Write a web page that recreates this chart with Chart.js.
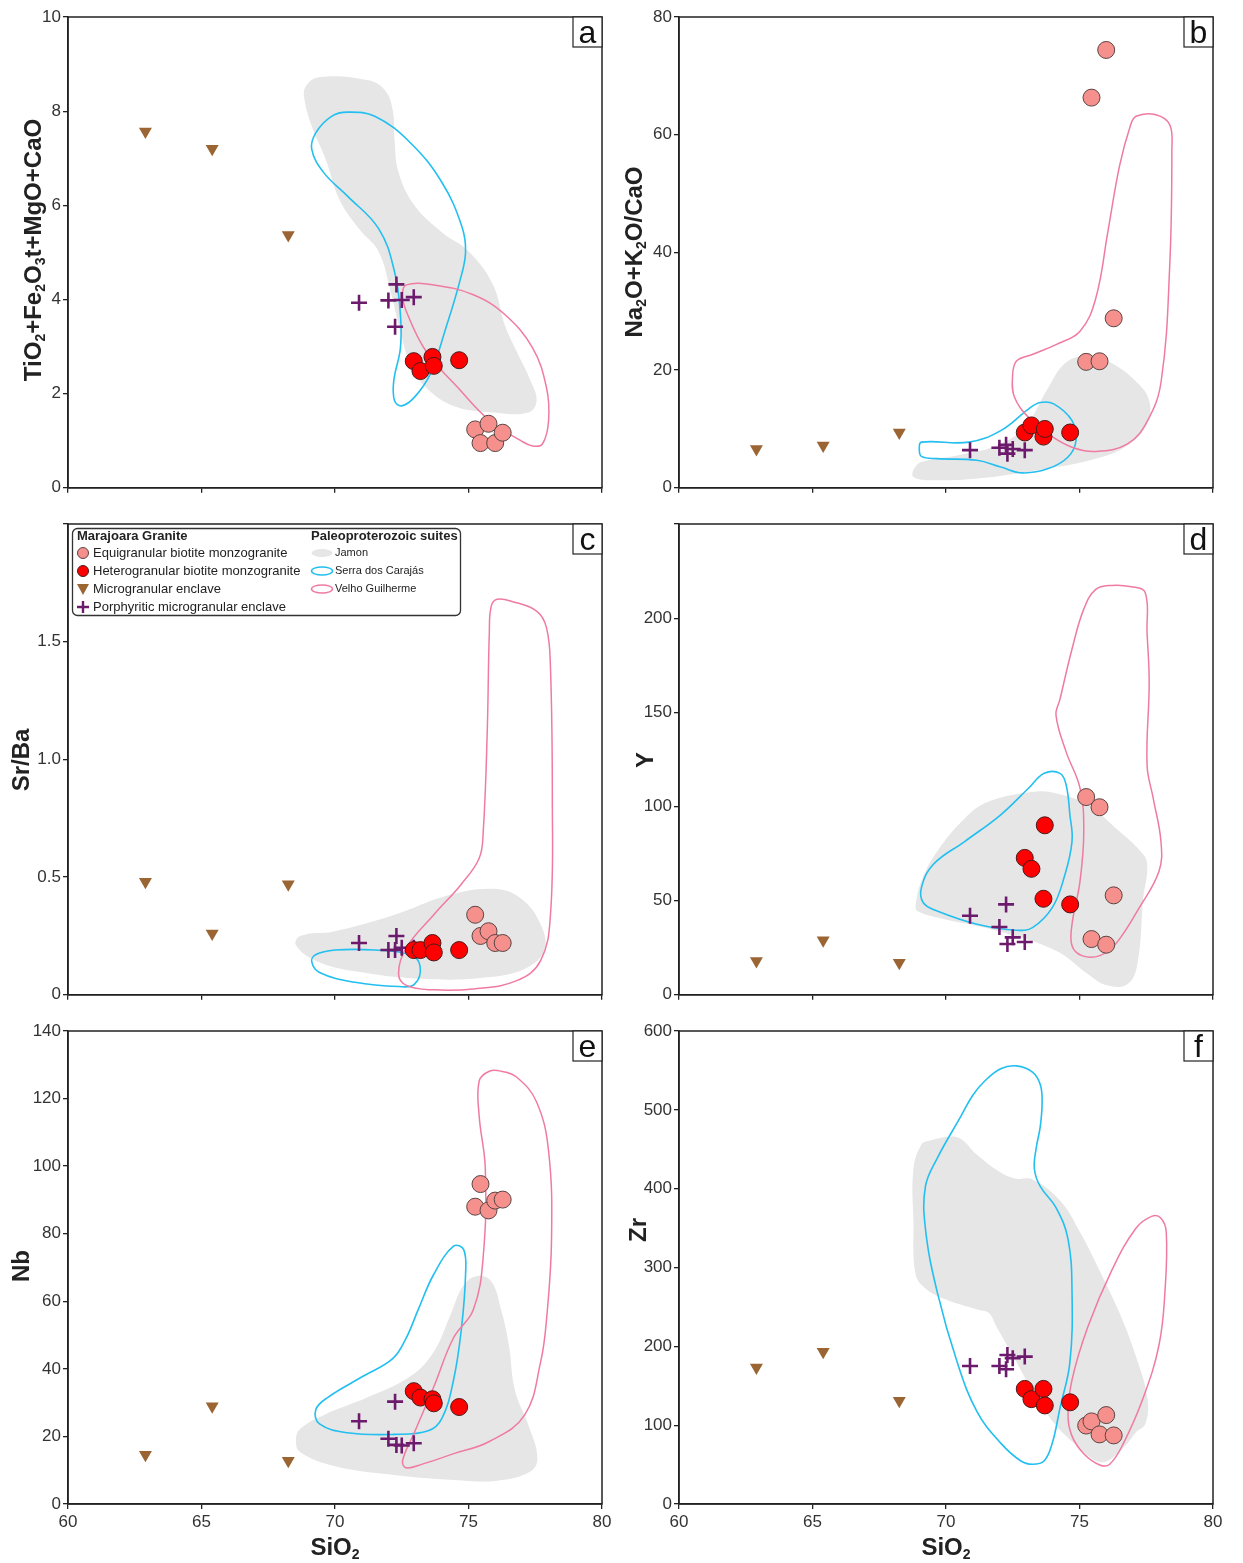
<!DOCTYPE html>
<html>
<head>
<meta charset="utf-8">
<script src="https://cdn.jsdelivr.net/npm/chart.js@4.4.1/dist/chart.umd.min.js"></script>
<style>
  body { margin: 0; background: #fff; }
  #wrap { position: relative; width: 1243px; height: 1563px; overflow: hidden; }
  canvas { position: absolute; }
</style>
</head>
<body>
<div id="wrap">
  <canvas id="pa"></canvas>
  <canvas id="pb"></canvas>
  <canvas id="pc"></canvas>
  <canvas id="pd"></canvas>
  <canvas id="pe"></canvas>
  <canvas id="pf"></canvas>
</div>
<script>
// SiO2 of the samples (same samples in every panel)
const siEqui   = [75.25, 75.45, 75.75, 76.0, 76.28];
const siHetero = [72.95, 73.2, 73.65, 73.7, 74.65];
const siMicro  = [62.9, 65.4, 68.25];
const siPorph  = [70.9, 72.0, 72.25, 72.3, 72.5, 72.95];

// a: TiO2+Fe2O3t+MgO+CaO
const aEqui   = [1.24, 0.95, 1.36, 0.95, 1.17];
const aHetero = [2.69, 2.48, 2.78, 2.59, 2.71];
const aMicro  = [7.57, 7.2, 5.37];
const aPorph  = [3.93, 3.98, 3.42, 4.32, 3.99, 4.05];
// b: Na2O+K2O/CaO
const bEqui   = [21.4, 66.3, 21.5, 74.4, 28.8];
const bHetero = [9.4, 10.6, 8.7, 10.0, 9.4];
const bMicro  = [6.6, 7.2, 9.4];
const bPorph  = [6.4, 6.8, 7.3, 5.8, 6.6, 6.4];
// c: Sr/Ba
const cEqui   = [0.34, 0.25, 0.27, 0.22, 0.22];
const cHetero = [0.19, 0.19, 0.22, 0.18, 0.19];
const cMicro  = [0.48, 0.26, 0.47];
const cPorph  = [0.22, 0.19, 0.19, 0.25, 0.2, 0.2];
// d: Y
const dEqui   = [105, 29.6, 99.6, 26.6, 52.8];
const dHetero = [72.7, 66.9, 51, 90, 48];
const dMicro  = [18, 29, 17];
const dPorph  = [42, 36, 48, 27, 30.5, 28];
// e: Nb
const eEqui   = [88, 94.7, 86.9, 89.8, 90.1];
const eHetero = [33.4, 31.5, 31.0, 29.8, 28.7];
const eMicro  = [14.6, 28.9, 12.8];
const ePorph  = [24.5, 19.3, 30.3, 17.5, 17.3, 18.0];
// f: Zr
const fEqui   = [99.5, 104.8, 88.3, 112.8, 87];
const fHetero = [146, 133, 146, 125, 129];
const fMicro  = [173, 193, 131];
const fPorph  = [175, 175, 171, 189, 185, 187];

// fields of the Paleoproterozoic suites, [SiO2, value]
const jamonA = [[68.9,8.52],[69.4,8.72],[71.2,8.66],[71.86,8.45],[72.16,8.03],[72.23,7.4],[72.38,6.7],[72.97,6.0],[74.0,5.43],[75.03,5.01],[75.92,4.31],[76.36,3.46],[76.8,2.9],[77.33,2.27],[77.55,1.85],[77.25,1.6],[75.92,1.6],[74.44,1.74],[73.41,2.13],[72.82,2.62],[72.45,3.32],[72.08,4.17],[71.64,5.01],[70.9,5.5],[70.16,6.13],[69.65,6.98],[69.13,7.68],[68.86,8.24]];
const carajasA = [[70.46,7.98],[71.49,7.89],[72.82,7.33],[74.0,6.49],[74.74,5.57],[74.89,5.01],[74.67,4.38],[74.15,3.39],[73.56,2.41],[72.97,1.92],[72.5,1.74],[72.23,1.85],[72.2,2.27],[72.45,2.97],[72.45,3.68],[72.23,4.59],[71.64,5.5],[70.46,6.2],[69.57,6.7],[69.13,7.19],[69.28,7.54],[69.87,7.89]];
const velhoA = [[72.67,4.31],[73.7,4.31],[75.18,4.1],[76.36,3.68],[77.4,2.97],[77.92,2.13],[78.0,1.43],[77.77,0.93],[77.4,0.89],[76.96,1.0],[75.78,1.43],[74.6,2.13],[73.41,2.9],[72.67,3.75],[72.53,4.1]];

const jamonB = [[68.78,2.98],[69.08,4.38],[70.42,5.5],[71.9,7.2],[72.94,10.3],[73.83,17.0],[74.42,21.0],[75.16,22.4],[76.06,21.5],[77.09,18.2],[77.61,14.8],[77.53,10.85],[76.8,7.2],[75.6,4.95],[73.38,2.98],[71.16,1.57],[69.38,1.3],[68.78,1.85]];
const carajasB = [[69.08,7.76],[70.86,7.76],[72.05,9.72],[73.09,13.38],[73.53,14.5],[74.05,14.22],[74.72,11.41],[74.87,8.04],[74.57,5.23],[73.83,3.26],[72.86,2.53],[72.05,3.54],[71.16,4.67],[69.67,4.95],[69.08,5.34],[69.0,6.63]];
const velhoB = [[72.49,18.72],[72.64,21.53],[73.23,22.65],[74.12,24.34],[75.02,26.59],[75.61,32.21],[76.06,43.45],[76.5,54.7],[76.9,61.44],[77.12,63.13],[77.86,63.4],[78.38,61.7],[78.46,57.5],[78.38,37.8],[78.06,18.15],[77.55,11.4],[76.8,7.47],[75.6,6.18],[74.72,6.9],[73.83,9.16],[73.09,11.97],[72.57,15.35]];

const jamonC = [[68.69,0.25],[70.0,0.27],[72.23,0.34],[74.16,0.42],[75.92,0.45],[76.95,0.41],[77.7,0.3],[77.84,0.19],[77.1,0.11],[75.63,0.074],[73.41,0.067],[70.75,0.1],[69.27,0.145],[68.54,0.21]];
const carajasC = [[69.27,0.17],[70.0,0.19],[71.49,0.19],[72.82,0.17],[73.19,0.12],[72.97,0.044],[72.38,0.035],[70.75,0.053],[69.42,0.095],[69.13,0.14]];
const velhoC = [[75.85,1.65],[76.07,1.68],[76.66,1.67],[77.55,1.63],[77.92,1.56],[78.07,1.39],[78.14,0.83],[78.07,0.34],[77.7,0.145],[76.81,0.06],[75.18,0.025],[73.7,0.021],[72.67,0.04],[72.38,0.09],[72.67,0.2],[73.7,0.34],[74.73,0.47],[75.4,0.58],[75.55,0.69],[75.7,1.11],[75.78,1.54]];

const jamonD = [[68.86,47.2],[69.08,60.4],[69.67,76.2],[70.71,93.8],[71.6,102.6],[73.38,107.9],[74.12,107],[75.31,100.9],[76.35,88.6],[77.39,74.5],[77.54,67.4],[77.39,51.6],[77.17,16.4],[76.8,5.8],[76.06,4.9],[75.31,11.1],[74.12,23.4],[71.9,34],[69.67,41],[68.93,44.5]];
const carajasD = [[69.15,48.9],[69.08,56.9],[69.52,69.2],[70.71,81.5],[72.05,95.6],[73.09,109.7],[73.68,117.6],[74.27,117.6],[74.5,111.4],[74.64,95.6],[74.72,81.5],[74.42,62.1],[73.98,46.3],[73.24,35.7],[72.64,34.3],[71.16,37.5],[69.67,44.5]];
const velhoD = [[74.27,157],[74.72,183.6],[75.16,204.8],[75.61,215.3],[76.2,217.4],[76.94,216.7],[77.46,213.6],[77.53,192.4],[77.61,166],[77.53,122],[77.76,104.4],[78.05,81.5],[77.98,65.7],[77.24,46.3],[76.35,26.9],[75.76,20.8],[75.09,20.8],[74.72,26],[74.72,37.5],[75.02,60.4],[75.16,86.8],[75.02,109.7],[74.5,129],[74.12,148.4]];

const jamonE = [[68.54,19],[68.69,22.2],[69.57,26.3],[71.2,31.5],[72.82,37.8],[73.7,45.1],[74.3,55.5],[74.82,64.8],[75.33,67.5],[75.85,65.9],[76.22,57.6],[76.51,47.2],[76.74,33.6],[77.25,23.2],[77.58,13.8],[77.33,9.7],[76.07,6.9],[74.44,7.1],[72.23,8.6],[70.0,11.2],[68.69,15.4]];
const carajasE = [[69.28,27.9],[69.72,31.5],[71.05,37.8],[72.16,43],[72.67,49.2],[73.12,57.6],[73.7,68],[74.44,76.3],[74.82,75.3],[74.89,68],[74.74,52.3],[74.44,36.7],[74.0,25.3],[73.49,21.7],[72.23,20.6],[70.46,21.1],[69.42,23.7]];
const velhoE = [[75.4,125.2],[75.78,128.1],[76.22,128.1],[76.81,126.3],[77.55,119],[78.0,104.4],[78.11,78.4],[77.92,54.4],[77.7,42],[77.1,26.3],[75.78,18.5],[74.45,14.9],[73.27,11.8],[72.67,10.7],[72.53,12.8],[72.97,21.1],[73.7,34.7],[74.44,49.2],[75.18,57.5],[75.55,73.1],[75.63,99.2],[75.4,114.8]];

const jamonF = [[69.08,456],[69.38,460.8],[70.12,466],[70.56,463],[71.16,443],[72.05,420.6],[72.64,412.6],[73.24,411.7],[74.27,385],[75.02,344.8],[75.76,295.7],[76.5,242.2],[77.1,188.7],[77.54,135.1],[77.47,101.7],[77.1,90.5],[76.8,77.2],[76.06,54.9],[75.61,54.9],[74.87,75],[74.12,99.5],[73.38,135],[72.64,179.7],[71.9,224.4],[71.6,242.2],[71.16,246.7],[69.95,260],[69.23,273.4],[68.86,291.3],[68.78,358.2],[68.78,425.1]];
const carajasF = [[71.45,536.6],[72.05,552.2],[72.64,555.8],[73.24,547.8],[73.53,532],[73.6,509.8],[73.53,478.6],[73.38,451.8],[73.31,425],[73.53,402.8],[74.12,376],[74.57,335.9],[74.72,269],[74.64,179.7],[74.27,121.8],[73.98,77.2],[73.68,54.9],[73.24,50.4],[72.79,54.9],[72.05,77.2],[71.16,117.3],[70.42,179.7],[69.67,269],[69.23,349.2],[69.23,402.8],[69.67,438.5],[70.56,492],[71.01,518.8]];
const velhoF = [[74.57,112.8],[74.72,157.5],[75.31,224.4],[76.2,295.7],[77.1,349.2],[77.7,364.8],[78.05,362.6],[78.25,344.8],[78.2,269],[77.98,202],[77.39,135],[76.65,77.2],[76.13,50.4],[75.76,49.5],[75.16,63.8],[74.72,86.1]];

const FONT = '"Liberation Sans", Arial, Helvetica, sans-serif';
const PINK = '#f5908c', RED = '#ff0000', BROWN = '#9b6533', PURPLE = '#6c1b6c';
const CYAN = '#22bff0', ROSE = '#f07ba0', GREY = '#e6e6e6';

Chart.defaults.font.family = FONT;
Chart.defaults.color = '#333';

const xy = (xs, ys) => xs.map((x, i) => ({ x, y: ys[i] }));
const pts = a => a.map(p => ({ x: p[0], y: p[1] }));

function pointSets(eq, he, mi, po) {
  return [
    { data: xy(siEqui, eq), pointStyle: 'circle', pointRadius: 8.5, pointBackgroundColor: PINK, pointBorderColor: '#5a4444', pointBorderWidth: 1 },
    { data: xy(siHetero, he), pointStyle: 'circle', pointRadius: 8.5, pointBackgroundColor: RED, pointBorderColor: '#4a1a1a', pointBorderWidth: 1 },
    { data: xy(siPorph, po), pointStyle: 'cross', pointRadius: 8, pointBorderColor: PURPLE, pointBackgroundColor: PURPLE, pointBorderWidth: 2.6 },
    { data: xy(siMicro, mi), pointStyle: 'triangle', pointRotation: 180, pointRadius: 7.5, pointBackgroundColor: BROWN, pointBorderWidth: 0 }
  ];
}

function fieldSets(velho, carajas, jamon) {
  const base = { type: 'line', closed: true, tension: 0.4, pointRadius: 0, pointHoverRadius: 0 };
  return [
    Object.assign({}, base, { data: pts(velho), borderColor: ROSE, borderWidth: 1.5, backgroundColor: 'rgba(0,0,0,0)', fill: false }),
    Object.assign({}, base, { data: pts(carajas), borderColor: CYAN, borderWidth: 1.6, backgroundColor: 'rgba(0,0,0,0)', fill: false }),
    Object.assign({}, base, { data: pts(jamon), borderWidth: 0, backgroundColor: GREY, fill: 'shape' })
  ];
}

// make the field outlines closed smooth loops
const closedFields = {
  id: 'closedFields',
  afterDatasetsUpdate(chart) {
    chart.data.datasets.forEach((ds, i) => {
      if (!ds.closed) return;
      const line = chart.getDatasetMeta(i).dataset;
      if (!line) return;
      line._loop = true;
      line._fullLoop = true;
      line._pointsUpdated = false;
      line._segments = undefined;
      line._path = undefined;
    });
  }
};

function richText(ctx, parts, cx, cy, rotated) {
  const big = 'bold 24px ' + FONT, small = 'bold 14px ' + FONT;
  ctx.save();
  ctx.translate(cx, cy);
  if (rotated) ctx.rotate(-Math.PI / 2);
  ctx.fillStyle = '#222';
  ctx.textBaseline = 'alphabetic';
  ctx.textAlign = 'left';
  let w = 0;
  for (const [t, sub] of parts) { ctx.font = sub ? small : big; w += ctx.measureText(t).width; }
  let x = -w / 2;
  for (const [t, sub] of parts) {
    ctx.font = sub ? small : big;
    ctx.fillText(t, x, sub ? 13 : 8.5);
    x += ctx.measureText(t).width;
  }
  ctx.restore();
}

function drawLegend(ctx, ox, oy) {
  ctx.save();
  ctx.translate(-ox, -oy);
  ctx.beginPath();
  ctx.roundRect(72.5, 528.5, 388, 87, 5);
  ctx.fillStyle = '#fff';
  ctx.fill();
  ctx.strokeStyle = '#333';
  ctx.lineWidth = 1.3;
  ctx.stroke();

  ctx.textBaseline = 'middle';
  ctx.textAlign = 'left';
  ctx.fillStyle = '#222';
  ctx.font = 'bold 13px ' + FONT;
  ctx.fillText('Marajoara Granite', 77, 536);
  ctx.fillText('Paleoproterozoic suites', 311, 536);

  const rows = [553, 571, 589, 607];
  ctx.font = '13px ' + FONT;
  ['Equigranular biotite monzogranite', 'Heterogranular biotite monzogranite',
   'Microgranular enclave', 'Porphyritic microgranular enclave'].forEach((t, i) => {
    ctx.fillStyle = '#222';
    ctx.fillText(t, 93, rows[i]);
  });
  // markers
  [[PINK, '#5a4444'], [RED, '#4a1a1a']].forEach((c, i) => {
    ctx.beginPath();
    ctx.arc(83, rows[i], 5.5, 0, Math.PI * 2);
    ctx.fillStyle = c[0]; ctx.fill();
    ctx.strokeStyle = c[1]; ctx.lineWidth = 1; ctx.stroke();
  });
  ctx.beginPath();
  ctx.moveTo(77, rows[2] - 5); ctx.lineTo(89, rows[2] - 5); ctx.lineTo(83, rows[2] + 6); ctx.closePath();
  ctx.fillStyle = BROWN; ctx.fill();
  ctx.beginPath();
  ctx.moveTo(77, rows[3]); ctx.lineTo(89, rows[3]);
  ctx.moveTo(83, rows[3] - 6); ctx.lineTo(83, rows[3] + 6);
  ctx.strokeStyle = PURPLE; ctx.lineWidth = 2.4; ctx.stroke();

  ctx.font = '11px ' + FONT;
  ctx.fillStyle = '#222';
  ['Jamon', 'Serra dos Carajás', 'Velho Guilherme'].forEach((t, i) => ctx.fillText(t, 335, rows[i]));
  ctx.beginPath(); ctx.ellipse(322, rows[0], 10.5, 4, 0, 0, Math.PI * 2); ctx.fillStyle = GREY; ctx.fill();
  ctx.lineWidth = 1.5;
  ctx.beginPath(); ctx.ellipse(322, rows[1], 10.5, 4, 0, 0, Math.PI * 2); ctx.strokeStyle = CYAN; ctx.stroke();
  ctx.beginPath(); ctx.ellipse(322, rows[2], 10.5, 4, 0, 0, Math.PI * 2); ctx.strokeStyle = ROSE; ctx.stroke();
  ctx.restore();
}

function decoPlugin(p) {
  return {
    id: 'deco',
    afterDraw(chart) {
      const ctx = chart.ctx, a = chart.chartArea;
      ctx.save();
      ctx.strokeStyle = '#222';
      ctx.lineWidth = 1.5;
      ctx.strokeRect(a.left, a.top, a.right - a.left, a.bottom - a.top);
      ctx.fillStyle = '#fff';
      ctx.fillRect(a.right - 29, a.top, 29, 30);
      ctx.lineWidth = 1.2;
      ctx.strokeRect(a.right - 29, a.top, 29, 30);
      ctx.fillStyle = '#111';
      ctx.font = '32px ' + FONT;
      ctx.textAlign = 'center';
      ctx.textBaseline = 'alphabetic';
      ctx.fillText(p.letter, a.right - 14.5, a.top + 26);
      ctx.restore();
      richText(ctx, p.yTitle, p.yTitleAt[0] - p.left, p.yTitleAt[1] - p.top, true);
      if (p.xTitle) richText(ctx, [['SiO', 0], ['2', 1]], p.xTitleAt[0] - p.left, p.xTitleAt[1] - p.top, false);
      if (p.legend) drawLegend(ctx, p.left, p.top);
    }
  };
}

const panels = [
  { id: 'pa', letter: 'a', left: 0, top: 0, w: 620, h: 500, area: [68, 17, 602, 491], ymax: 10, step: 2,
    yTitle: [['TiO', 0], ['2', 1], ['+Fe', 0], ['2', 1], ['O', 0], ['3', 1], ['t+MgO+CaO', 0]], yTitleAt: [32, 250],
    sets: [aEqui, aHetero, aMicro, aPorph], fields: [velhoA, carajasA, jamonA] },
  { id: 'pb', letter: 'b', left: 600, top: 0, w: 643, h: 500, area: [679, 17, 1213, 491], ymax: 80, step: 20,
    yTitle: [['Na', 0], ['2', 1], ['O+K', 0], ['2', 1], ['O/CaO', 0]], yTitleAt: [633, 252],
    sets: [bEqui, bHetero, bMicro, bPorph], fields: [velhoB, carajasB, jamonB] },
  { id: 'pc', letter: 'c', left: 0, top: 507, w: 620, h: 500, area: [68, 524, 602, 998], ymax: 2, step: 0.5,
    fmt: v => v === 0 ? '0' : (v >= 2 ? '' : v.toFixed(1)),
    yTitle: [['Sr/Ba', 0]], yTitleAt: [20, 760], legend: true,
    sets: [cEqui, cHetero, cMicro, cPorph], fields: [velhoC, carajasC, jamonC] },
  { id: 'pd', letter: 'd', left: 600, top: 507, w: 643, h: 500, area: [679, 524, 1213, 998], ymax: 250, step: 50,
    fmt: v => v >= 250 ? '' : String(v),
    yTitle: [['Y', 0]], yTitleAt: [644, 760],
    sets: [dEqui, dHetero, dMicro, dPorph], fields: [velhoD, carajasD, jamonD] },
  { id: 'pe', letter: 'e', left: 0, top: 1014, w: 620, h: 549, area: [68, 1031, 602, 1504], ymax: 140, step: 20,
    yTitle: [['Nb', 0]], yTitleAt: [20, 1266], xTitle: true, xTitleAt: [335, 1546],
    sets: [eEqui, eHetero, eMicro, ePorph], fields: [velhoE, carajasE, jamonE] },
  { id: 'pf', letter: 'f', left: 600, top: 1014, w: 643, h: 549, area: [679, 1031, 1213, 1504], ymax: 600, step: 100,
    yTitle: [['Zr', 0]], yTitleAt: [637, 1230], xTitle: true, xTitleAt: [946, 1546],
    sets: [fEqui, fHetero, fMicro, fPorph], fields: [velhoF, carajasF, jamonF] }
];

panels.forEach(p => {
  const cv = document.getElementById(p.id);
  cv.width = p.w; cv.height = p.h;
  cv.style.left = p.left + 'px'; cv.style.top = p.top + 'px';
  cv.style.width = p.w + 'px'; cv.style.height = p.h + 'px';
  const [l, t, r, b] = p.area;
  const gridOpts = { drawOnChartArea: false, drawTicks: true, tickLength: 5, color: '#222', lineWidth: 1.3 };
  new Chart(cv.getContext('2d'), {
    type: 'scatter',
    data: { datasets: pointSets(...p.sets).concat(fieldSets(...p.fields)) },
    options: {
      responsive: false,
      animation: false,
      events: [],
      layout: { padding: { top: t - p.top, right: p.left + p.w - r, left: 0, bottom: 0 } },
      plugins: { legend: { display: false }, tooltip: { enabled: false } },
      scales: {
        x: {
          type: 'linear', min: 60, max: 80,
          ticks: { stepSize: 5, display: !!p.xTitle, color: '#333', font: { size: 17 }, padding: 3, maxRotation: 0 },
          grid: gridOpts,
          border: { color: '#222', width: 1.5 },
          afterFit: s => { s.height = p.top + p.h - b; }
        },
        y: {
          type: 'linear', min: 0, max: p.ymax,
          ticks: { stepSize: p.step, color: '#333', font: { size: 17 }, padding: 2, callback: p.fmt || (v => String(v)) },
          grid: gridOpts,
          border: { color: '#222', width: 1.5 },
          afterFit: s => { s.width = l - p.left; }
        }
      }
    },
    plugins: [closedFields, decoPlugin(p)]
  });
});
</script>
</body>
</html>
